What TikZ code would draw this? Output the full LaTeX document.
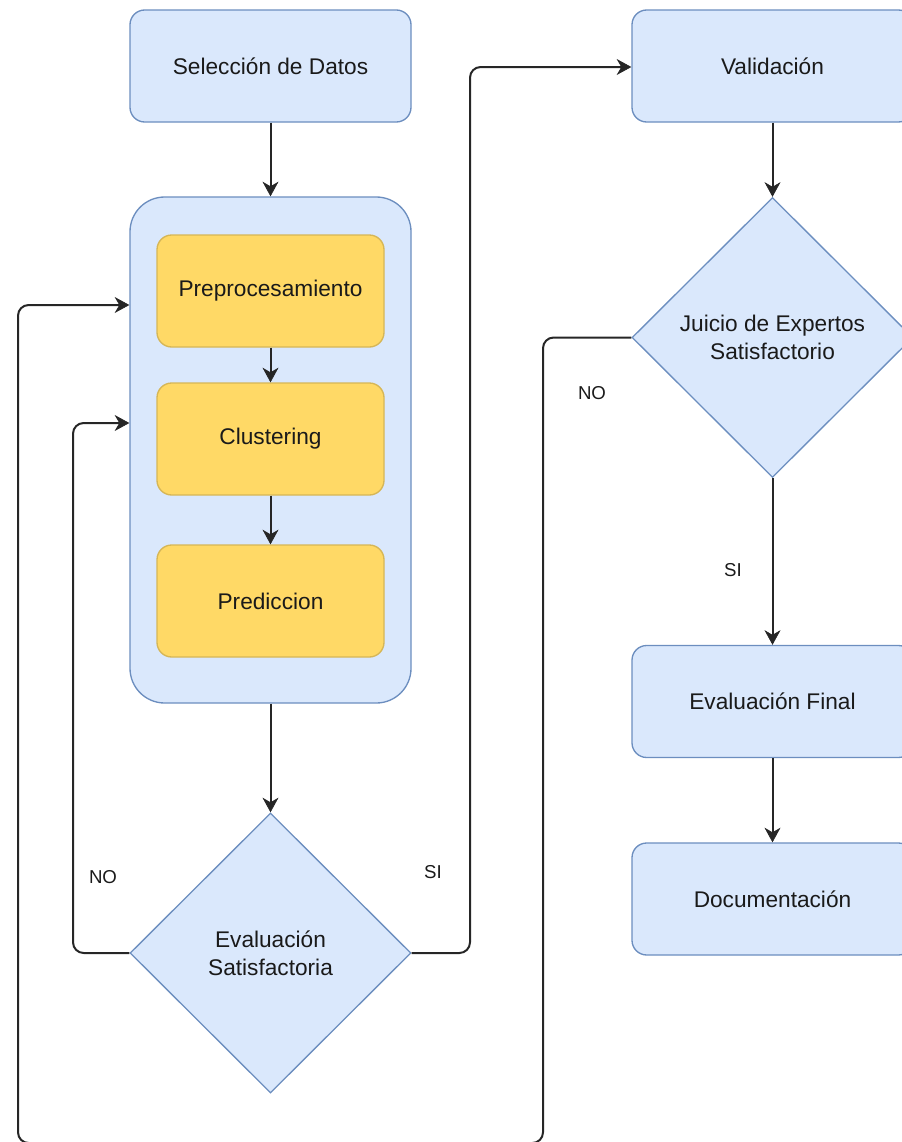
\documentclass[tikz,border=0pt]{standalone}
\usepackage{fontspec}
\setmainfont{Liberation Sans}
\usetikzlibrary{shapes.geometric,arrows.meta,calc}
\definecolor{bfill}{HTML}{DAE8FC}
\definecolor{bdraw}{HTML}{6C8EBF}
\definecolor{yfill}{HTML}{FFD966}
\definecolor{ydraw}{HTML}{D6B656}
\definecolor{txt}{HTML}{1A1A1A}
\tikzset{
  bluebox/.style={draw=bdraw,fill=bfill,line width=1pt,rounded corners=11pt,minimum width=210.75pt,minimum height=84pt,inner sep=0pt,font=\fontsize{17}{20}\selectfont,text=txt},
  yellowbox/.style={draw=ydraw,fill=yfill,line width=1pt,rounded corners=11pt,minimum width=170.25pt,minimum height=84pt,inner sep=0pt,font=\fontsize{17}{20}\selectfont,text=txt},
  container/.style={draw=bdraw,fill=bfill,line width=1pt,rounded corners=26pt,minimum width=210.75pt,minimum height=379.5pt,inner sep=0pt},
  decision/.style={diamond,draw=bdraw,fill=bfill,line width=1pt,minimum width=210.75pt,minimum height=210pt,inner sep=0pt,align=center,font=\fontsize{17}{21}\selectfont,text=txt},
  flow/.style={line width=1.5pt,draw=black!85,rounded corners=8pt,-{Stealth[length=11pt,width=12pt,inset=3.5pt,line width=0.5pt]}},
  lbl/.style={font=\fontsize{14}{16}\selectfont,text=txt},
}
\begin{document}
\begin{tikzpicture}[x=0.75pt,y=-0.75pt]
\useasboundingbox (0,0) rectangle (901,1142);
% left column
\node[bluebox] (sel) at (270.5,66) {Selección de Datos};
\node[container] (cont) at (270.5,450) {};
\node[yellowbox] (pre) at (270.5,291) {Preprocesamiento};
\node[yellowbox] (clu) at (270.5,439) {Clustering};
\node[yellowbox] (pred) at (270.5,601) {Prediccion};
\node[decision] (eval) at (270.5,953) {Evaluación\\Satisfactoria};
% right column
\node[bluebox] (val) at (772.5,66) {Validación};
\node[decision] (jui) at (772.5,337.5) {Juicio de Expertos\\Satisfactorio};
\node[bluebox] (evf) at (772.5,701.5) {Evaluación Final};
\node[bluebox] (doc) at (772.5,899) {Documentación};
% coordinates for loops
\coordinate (noA) at (73,423);
\coordinate (siA) at (470,67);
\coordinate (noB) at (543,1143);
\coordinate (noC) at (18,305);
% connectors
\draw[flow] (sel) -- (cont);
\draw[flow] (pre) -- (clu);
\draw[flow] (clu) -- (pred);
\draw[flow] (cont) -- (eval);
\draw[flow] (eval.west) -| (noA) -- (cont.west |- noA);
\draw[flow] (eval.east) -| (siA) -- (val.west |- siA);
\draw[flow] (val) -- (jui);
\draw[flow] (jui) -- (evf);
\draw[flow] (evf) -- (doc);
\draw[flow] (jui.west) -| (noB) -| (noC) -- (cont.west |- noC);
% labels
\node[lbl] (lno1) at (103,877) {NO};
\node[lbl] (lsi1) at (433,872) {SI};
\node[lbl] (lno2) at (592,393) {NO};
\node[lbl] (lsi2) at (733,570) {SI};
\end{tikzpicture}
\end{document}
